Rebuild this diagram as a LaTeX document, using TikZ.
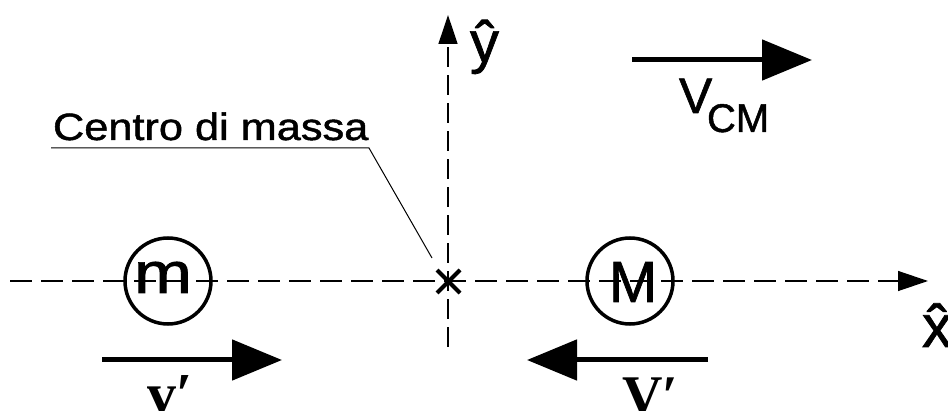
\documentclass[tikz,border=0pt]{standalone}
\usepackage{fontspec}
\setmainfont{Liberation Sans}[FakeBold=1.5,UprightFeatures={FakeBold=1.2}]
\newfontfamily\serifbold{Liberation Serif}[UprightFont=* Bold]
\usetikzlibrary{arrows.meta}
\newcommand{\fsz}[1]{\fontsize{#1}{#1}\selectfont}
\begin{document}
\begin{tikzpicture}[x=1pt,y=-1pt,
  axis/.style={line width=1.3pt,dash pattern=on 22pt off 9pt,-{Triangle[length=30pt,width=20pt]}},
  vaxis/.style={line width=1.3pt,dash pattern=on 20pt off 8pt,-{Triangle[length=29pt,width=19pt]}},
  vec/.style={line width=5pt,-{Triangle[length=50pt,width=40pt]}},
  mass/.style={draw,circle,line width=3.5pt,minimum size=86pt,inner sep=0pt},
  lbl/.style={inner sep=0pt,outer sep=0pt},
  leader/.style={line width=1pt}]
\useasboundingbox (0,0) rectangle (948,411);
% axes
\coordinate (xs) at (10,281);
\coordinate (xe) at (928,281);
\coordinate (ys) at (448,347);
\coordinate (ye) at (448,15);
\draw[axis] (xs) -- (xe);
\draw[vaxis] (ys) -- (ye);
\node[lbl,anchor=base west] (yhat) at (470,62) {\fsz{58}ŷ};
\node[lbl,anchor=base west] (xhat) at (922,347) {\fsz{60}\^{x}};
% centre of mass cross
\node[lbl,minimum size=23pt] (cm) at (448.5,281.5) {};
\draw[line width=4pt] (cm.north west) -- (cm.south east);
\draw[line width=4pt] (cm.south west) -- (cm.north east);
% leader
\node[lbl,anchor=base west] (cdm) at (53,140) {\fsz{38}\scalebox{1.14}[1]{Centro di massa}};
\coordinate (l1) at (51,148);
\coordinate (l2) at (369,148);
\coordinate (l3) at (432,258);
\draw[leader] (l1) -- (l2) -- (l3);
% masses
\node[mass] (mc) at (168,281) {};
\node[lbl,anchor=base] (mlab) at (163,293) {\fsz{58}\scalebox{1.2}[1]{m}};
\node[mass] (Mc) at (630,281) {};
\node[lbl,anchor=base] (Mlab) at (633,302) {\fsz{58}M};
% velocity vectors
\coordinate (vcs) at (632,60);
\coordinate (vce) at (812,60);
\draw[vec] (vcs) -- (vce);
\node[lbl,anchor=base west] (vcm) at (679,113) {\fsz{50}V};
\node[lbl,anchor=base west] (vcmsub) at (707,132) {\fsz{40}CM};
\coordinate (vs) at (102,360);
\coordinate (ve) at (282,360);
\draw[vec] (vs) -- (ve);
\node[lbl,anchor=base west] (vlab) at (147,414) {\fsz{58}\serifbold v′};
\coordinate (Vs) at (708,360);
\coordinate (Ve) at (527,360);
\draw[vec] (Vs) -- (Ve);
\node[lbl,anchor=base west] (Vlab) at (622,415) {\fsz{56}\serifbold V′};
\end{tikzpicture}
\end{document}
